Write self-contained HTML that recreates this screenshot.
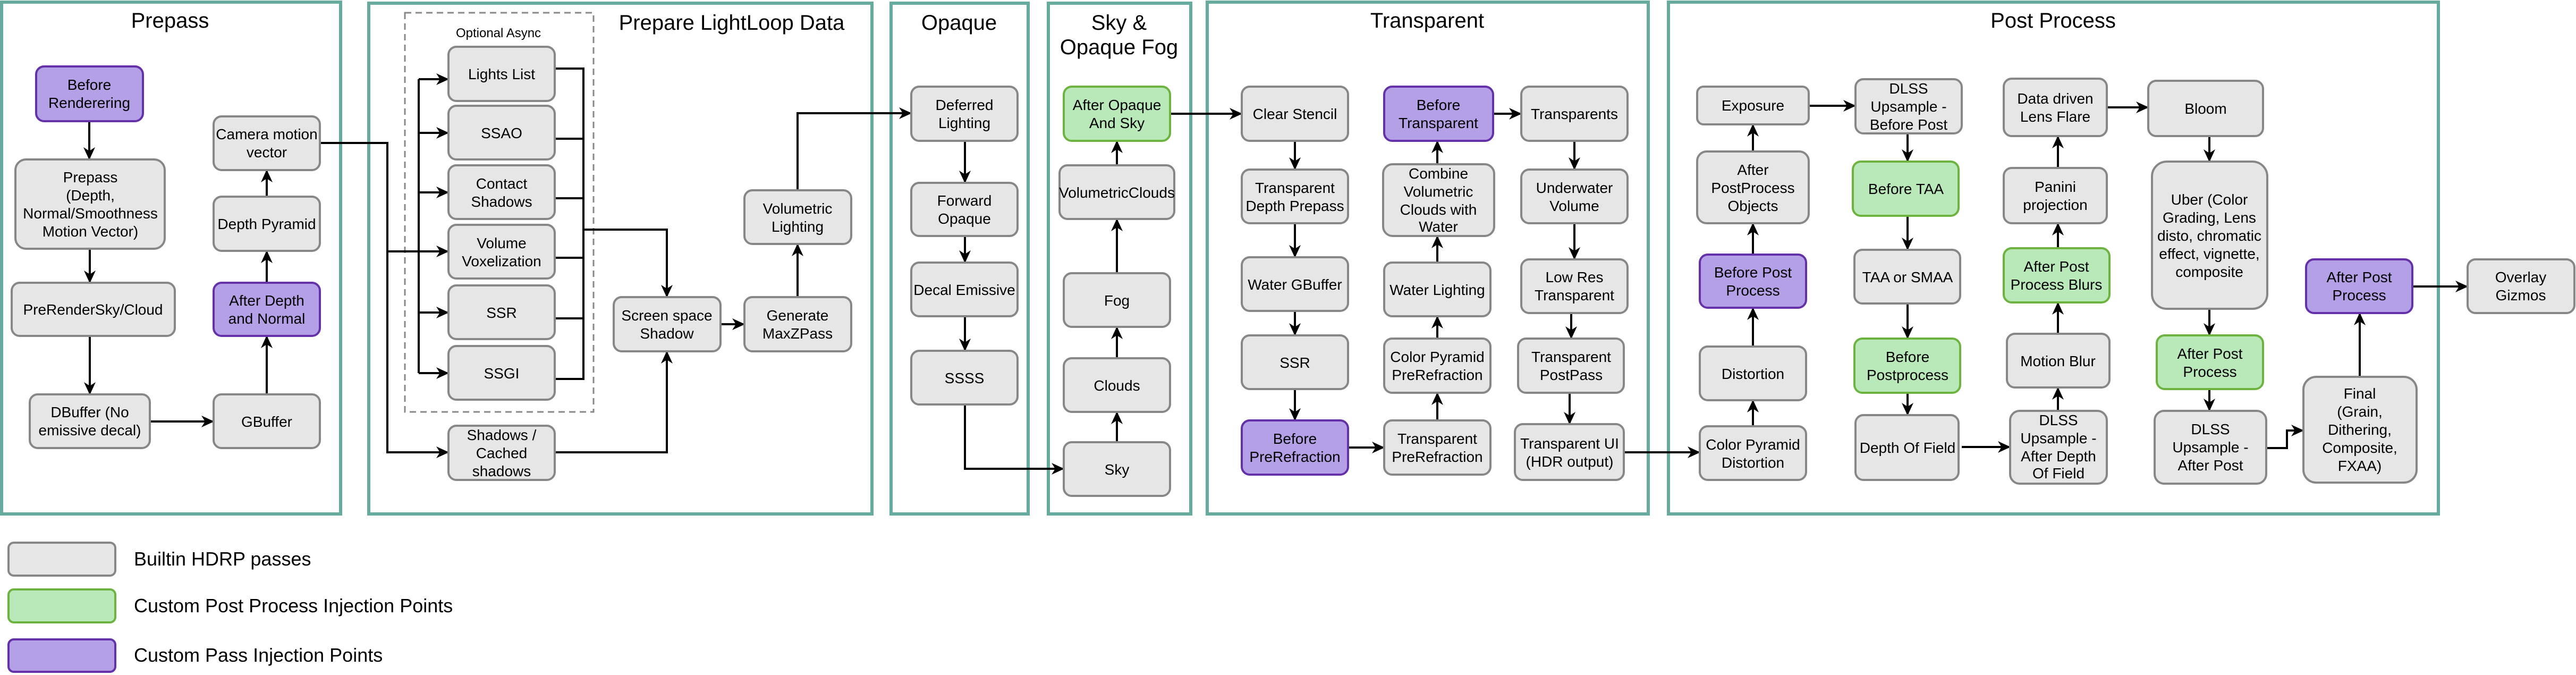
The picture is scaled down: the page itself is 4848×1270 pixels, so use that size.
<!DOCTYPE html>
<html><head><meta charset="utf-8"><style>
html,body{margin:0;padding:0;background:#fff;}
svg{display:block;}
text{font-family:"Liberation Sans",sans-serif;fill:#000;}
.n{fill:#e6e6e6;stroke:#878787;stroke-width:4;}
.p{fill:#b4a0e6;stroke:#6531a8;stroke-width:4;}
.g{fill:#b9e8b9;stroke:#6db33f;stroke-width:4;}
.s{fill:none;stroke:#67ab9f;stroke-width:6;}
.e{fill:none;stroke:#000;stroke-width:4;}
.t{font-size:28px;text-anchor:middle;}
.h{font-size:40px;text-anchor:middle;}
</style></head><body>
<svg width="4848" height="1270" viewBox="0 0 4848 1270" xmlns="http://www.w3.org/2000/svg">
<defs><marker id="a" viewBox="0 0 24 24" markerWidth="24" markerHeight="24" markerUnits="userSpaceOnUse" refX="23" refY="12" orient="auto"><path d="M0,1 L24,12 L0,23 L7,12 z" fill="#000"/></marker></defs>

<!-- sections -->
<rect class="s" x="3" y="4" width="638" height="963"/>
<rect class="s" x="694" y="6" width="947" height="961"/>
<rect class="s" x="1677" y="6" width="258" height="961"/>
<rect class="s" x="1973" y="6" width="268" height="961"/>
<rect class="s" x="2272" y="4" width="830" height="963"/>
<rect class="s" x="3140" y="4" width="1449" height="963"/>
<text class="h" x="320" y="52">Prepass</text>
<text class="h" x="1377" y="56">Prepare LightLoop Data</text>
<text class="h" x="1805" y="56">Opaque</text>
<text class="h" x="2106" y="56">Sky &amp;</text>
<text class="h" x="2106" y="102">Opaque Fog</text>
<text class="h" x="2686" y="52">Transparent</text>
<text class="h" x="3864" y="52">Post Process</text>

<rect x="762" y="24" width="355" height="751" fill="none" stroke="#888" stroke-width="3" stroke-dasharray="12,8"/>
<text x="938" y="70" font-size="24" text-anchor="middle">Optional Async</text>

<!-- edges -->
<g class="e" marker-end="url(#a)">
<path d="M168,228 V300"/><path d="M169,468 V532"/><path d="M169,632 V742"/>
<path d="M282,793 H402"/><path d="M502,742 V632"/><path d="M502,532 V472"/><path d="M502,370 V320"/>
<path d="M602,269 H729 V851 H844"/><path d="M729,473 H844"/>
<path d="M788,149 H844"/><path d="M788,250 H844"/><path d="M788,362 H844"/><path d="M788,588 H844"/><path d="M788,702 H844"/>
<path d="M1098,432 H1255 V559"/><path d="M1044,851 H1255 V661"/>
<path d="M1356,610 H1401"/><path d="M1501,559 V459"/><path d="M1501,358 V213 H1715"/>
<path d="M1816,265 V344"/><path d="M1816,444 V494"/><path d="M1816,595 V660"/>
<path d="M1816,761 V882 H2002"/>
<path d="M2102,832 V775"/><path d="M2102,674 V615"/><path d="M2102,514 V412"/><path d="M2102,311 V265"/>
<path d="M2202,214 H2337"/>
<path d="M2437,265 V319"/><path d="M2437,420 V484"/><path d="M2437,585 V631"/><path d="M2437,732 V791"/>
<path d="M2537,842 H2605"/>
<path d="M2705,791 V739"/><path d="M2705,637 V595"/><path d="M2705,494 V444"/><path d="M2705,309 V265"/>
<path d="M2810,214 H2863"/>
<path d="M2963,265 V319"/><path d="M2963,420 V488"/><path d="M2957,589 V637"/><path d="M2954,739 V798"/>
<path d="M3056,851 H3199"/>
<path d="M3299,802 V753"/><path d="M3299,652 V579"/><path d="M3299,479 V420"/><path d="M3299,285 V234"/>
<path d="M3404,199 H3492"/>
<path d="M3590,251 V304"/><path d="M3590,406 V470"/><path d="M3590,571 V637"/><path d="M3590,739 V781"/>
<path d="M3692,841 H3783"/>
<path d="M3873,773 V729"/><path d="M3873,628 V569"/><path d="M3873,467 V420"/><path d="M3873,316 V256"/>
<path d="M3965,202 H4043"/>
<path d="M4158,256 V304"/><path d="M4158,581 V631"/><path d="M4158,732 V773"/>
<path d="M4265,843 H4304 V810 H4335"/>
<path d="M4441,709 V589"/><path d="M4540,539 H4644"/>
</g>
<g class="e">
<path d="M788,149 V702"/>
<path d="M1044,129 H1098 V713 H1044"/>
<path d="M1044,261 H1098"/><path d="M1044,373 H1098"/><path d="M1044,485 H1098"/><path d="M1044,599 H1098"/>
</g>

<!-- nodes -->
<g class="t">
<rect class="p" x="68" y="125" width="201" height="103" rx="15"/><text x="168" y="169">Before<tspan x="168" dy="34">Renderering</tspan></text>
<rect class="n" x="29" y="300" width="281" height="168" rx="20"/><text x="170" y="343">Prepass<tspan x="170" dy="34">(Depth,</tspan><tspan x="170" dy="34">Normal/Smoothness</tspan><tspan x="170" dy="34">Motion Vector)</tspan></text>
<rect class="n" x="22" y="532" width="307" height="100" rx="15"/><text x="175" y="592">PreRenderSky/Cloud</text>
<rect class="n" x="56" y="742" width="226" height="101" rx="15"/><text x="169" y="785">DBuffer (No<tspan x="169" dy="34">emissive decal)</tspan></text>
<rect class="n" x="402" y="742" width="200" height="101" rx="15"/><text x="502" y="803">GBuffer</text>
<rect class="p" x="402" y="532" width="200" height="100" rx="15"/><text x="502" y="575">After Depth<tspan x="502" dy="34">and Normal</tspan></text>
<rect class="n" x="402" y="370" width="200" height="102" rx="15"/><text x="502" y="431">Depth Pyramid</text>
<rect class="n" x="402" y="219" width="200" height="101" rx="15"/><text x="502" y="262">Camera motion<tspan x="502" dy="34">vector</tspan></text>

<rect class="n" x="844" y="88" width="200" height="102" rx="15"/><text x="944" y="149">Lights List</text>
<rect class="n" x="844" y="199" width="200" height="101" rx="15"/><text x="944" y="260">SSAO</text>
<rect class="n" x="844" y="311" width="200" height="101" rx="15"/><text x="944" y="355">Contact<tspan x="944" dy="34">Shadows</tspan></text>
<rect class="n" x="844" y="423" width="200" height="101" rx="15"/><text x="944" y="467">Volume<tspan x="944" dy="34">Voxelization</tspan></text>
<rect class="n" x="844" y="537" width="200" height="101" rx="15"/><text x="944" y="598">SSR</text>
<rect class="n" x="844" y="651" width="200" height="101" rx="15"/><text x="944" y="712">SSGI</text>
<rect class="n" x="844" y="801" width="200" height="102" rx="15"/><text x="944" y="828">Shadows /<tspan x="944" dy="34">Cached</tspan><tspan x="944" dy="34">shadows</tspan></text>
<rect class="n" x="1155" y="559" width="201" height="102" rx="15"/><text x="1255" y="603">Screen space<tspan x="1255" dy="34">Shadow</tspan></text>
<rect class="n" x="1401" y="559" width="201" height="102" rx="15"/><text x="1501" y="603">Generate<tspan x="1501" dy="34">MaxZPass</tspan></text>
<rect class="n" x="1401" y="358" width="201" height="101" rx="15"/><text x="1501" y="402">Volumetric<tspan x="1501" dy="34">Lighting</tspan></text>

<rect class="n" x="1715" y="163" width="200" height="102" rx="15"/><text x="1815" y="207">Deferred<tspan x="1815" dy="34">Lighting</tspan></text>
<rect class="n" x="1715" y="344" width="200" height="100" rx="15"/><text x="1815" y="387">Forward<tspan x="1815" dy="34">Opaque</tspan></text>
<rect class="n" x="1715" y="494" width="200" height="101" rx="15"/><text x="1815" y="555">Decal Emissive</text>
<rect class="n" x="1715" y="660" width="200" height="101" rx="15"/><text x="1815" y="721">SSSS</text>

<rect class="g" x="2002" y="163" width="200" height="102" rx="15"/><text x="2102" y="207">After Opaque<tspan x="2102" dy="34">And Sky</tspan></text>
<rect class="n" x="1994" y="311" width="216" height="101" rx="15"/><text x="2102" y="372">VolumetricClouds</text>
<rect class="n" x="2002" y="514" width="200" height="101" rx="15"/><text x="2102" y="575">Fog</text>
<rect class="n" x="2002" y="674" width="200" height="101" rx="15"/><text x="2102" y="735">Clouds</text>
<rect class="n" x="2002" y="832" width="200" height="101" rx="15"/><text x="2102" y="893">Sky</text>

<rect class="n" x="2337" y="163" width="200" height="102" rx="15"/><text x="2437" y="224">Clear Stencil</text>
<rect class="n" x="2337" y="319" width="200" height="101" rx="15"/><text x="2437" y="363">Transparent<tspan x="2437" dy="34">Depth Prepass</tspan></text>
<rect class="n" x="2337" y="484" width="200" height="101" rx="15"/><text x="2437" y="545">Water GBuffer</text>
<rect class="n" x="2337" y="631" width="200" height="101" rx="15"/><text x="2437" y="692">SSR</text>
<rect class="p" x="2337" y="791" width="200" height="102" rx="15"/><text x="2437" y="835">Before<tspan x="2437" dy="34">PreRefraction</tspan></text>
<rect class="p" x="2605" y="163" width="205" height="102" rx="15"/><text x="2707" y="207">Before<tspan x="2707" dy="34">Transparent</tspan></text>
<rect class="n" x="2603" y="309" width="209" height="135" rx="18"/><text x="2707" y="336">Combine<tspan x="2707" dy="34">Volumetric</tspan><tspan x="2707" dy="34">Clouds with</tspan><tspan x="2707" dy="32">Water</tspan></text>
<rect class="n" x="2605" y="494" width="200" height="101" rx="15"/><text x="2705" y="555">Water Lighting</text>
<rect class="n" x="2605" y="637" width="200" height="102" rx="15"/><text x="2705" y="681">Color Pyramid<tspan x="2705" dy="34">PreRefraction</tspan></text>
<rect class="n" x="2605" y="791" width="200" height="102" rx="15"/><text x="2705" y="835">Transparent<tspan x="2705" dy="34">PreRefraction</tspan></text>
<rect class="n" x="2863" y="163" width="200" height="102" rx="15"/><text x="2963" y="224">Transparents</text>
<rect class="n" x="2863" y="319" width="200" height="101" rx="15"/><text x="2963" y="363">Underwater<tspan x="2963" dy="34">Volume</tspan></text>
<rect class="n" x="2863" y="488" width="200" height="101" rx="15"/><text x="2963" y="531">Low Res<tspan x="2963" dy="34">Transparent</tspan></text>
<rect class="n" x="2857" y="637" width="199" height="102" rx="15"/><text x="2957" y="681">Transparent<tspan x="2957" dy="34">PostPass</tspan></text>
<rect class="n" x="2851" y="798" width="205" height="105" rx="15"/><text x="2954" y="844">Transparent UI<tspan x="2954" dy="34">(HDR output)</tspan></text>

<rect class="n" x="3194" y="163" width="210" height="71" rx="12"/><text x="3299" y="208">Exposure</text>
<rect class="n" x="3194" y="285" width="210" height="135" rx="18"/><text x="3299" y="329">After<tspan x="3299" dy="34">PostProcess</tspan><tspan x="3299" dy="34">Objects</tspan></text>
<rect class="p" x="3199" y="479" width="200" height="100" rx="15"/><text x="3299" y="522">Before Post<tspan x="3299" dy="34">Process</tspan></text>
<rect class="n" x="3199" y="652" width="200" height="101" rx="15"/><text x="3299" y="713">Distortion</text>
<rect class="n" x="3199" y="802" width="200" height="101" rx="15"/><text x="3299" y="846">Color Pyramid<tspan x="3299" dy="34">Distortion</tspan></text>

<rect class="n" x="3492" y="149" width="200" height="102" rx="15"/><text x="3592" y="176">DLSS<tspan x="3592" dy="34">Upsample -</tspan><tspan x="3592" dy="34">Before Post</tspan></text>
<rect class="g" x="3487" y="304" width="199" height="102" rx="15"/><text x="3587" y="365">Before TAA</text>
<rect class="n" x="3490" y="470" width="199" height="101" rx="15"/><text x="3590" y="531">TAA or SMAA</text>
<rect class="g" x="3490" y="637" width="199" height="102" rx="15"/><text x="3590" y="681">Before<tspan x="3590" dy="34">Postprocess</tspan></text>
<rect class="n" x="3492" y="781" width="194" height="122" rx="15"/><text x="3590" y="852">Depth Of Field</text>

<rect class="n" x="3771" y="148" width="194" height="108" rx="15"/><text x="3868" y="195">Data driven<tspan x="3868" dy="34">Lens Flare</tspan></text>
<rect class="n" x="3771" y="316" width="194" height="104" rx="15"/><text x="3868" y="361">Panini<tspan x="3868" dy="34">projection</tspan></text>
<rect class="g" x="3771" y="467" width="199" height="102" rx="15"/><text x="3870" y="511">After Post<tspan x="3870" dy="34">Process Blurs</tspan></text>
<rect class="n" x="3777" y="628" width="193" height="101" rx="15"/><text x="3873" y="689">Motion Blur</text>
<rect class="n" x="3783" y="773" width="182" height="137" rx="18"/><text x="3874" y="800">DLSS<tspan x="3874" dy="34">Upsample -</tspan><tspan x="3874" dy="34">After Depth</tspan><tspan x="3874" dy="32">Of Field</tspan></text>

<rect class="n" x="4043" y="152" width="216" height="104" rx="15"/><text x="4151" y="214">Bloom</text>
<rect class="n" x="4050" y="304" width="217" height="277" rx="28"/><text x="4158" y="385">Uber (Color<tspan x="4158" dy="34">Grading, Lens</tspan><tspan x="4158" dy="34">disto, chromatic</tspan><tspan x="4158" dy="34">effect, vignette,</tspan><tspan x="4158" dy="34">composite</tspan></text>
<rect class="g" x="4059" y="631" width="200" height="101" rx="15"/><text x="4159" y="675">After Post<tspan x="4159" dy="34">Process</tspan></text>
<rect class="n" x="4055" y="773" width="210" height="137" rx="18"/><text x="4160" y="817">DLSS<tspan x="4160" dy="34">Upsample -</tspan><tspan x="4160" dy="34">After Post</tspan></text>

<rect class="n" x="4335" y="709" width="213" height="199" rx="24"/><text x="4441" y="750">Final<tspan x="4441" dy="34">(Grain,</tspan><tspan x="4441" dy="34">Dithering,</tspan><tspan x="4441" dy="34">Composite,</tspan><tspan x="4441" dy="34">FXAA)</tspan></text>
<rect class="p" x="4340" y="488" width="200" height="101" rx="15"/><text x="4440" y="531">After Post<tspan x="4440" dy="34">Process</tspan></text>
<rect class="n" x="4644" y="488" width="201" height="101" rx="15"/><text x="4744" y="531">Overlay<tspan x="4744" dy="34">Gizmos</tspan></text>
</g>

<!-- legend -->
<rect class="n" x="16" y="1021" width="201" height="62" rx="10"/>
<rect class="g" x="16" y="1109" width="201" height="62" rx="10"/>
<rect class="p" x="16" y="1203" width="201" height="61" rx="10"/>
<text x="252" y="1064" font-size="36">Builtin HDRP passes</text>
<text x="252" y="1152" font-size="36">Custom Post Process Injection Points</text>
<text x="252" y="1245" font-size="36">Custom Pass Injection Points</text>
</svg>
</body></html>
